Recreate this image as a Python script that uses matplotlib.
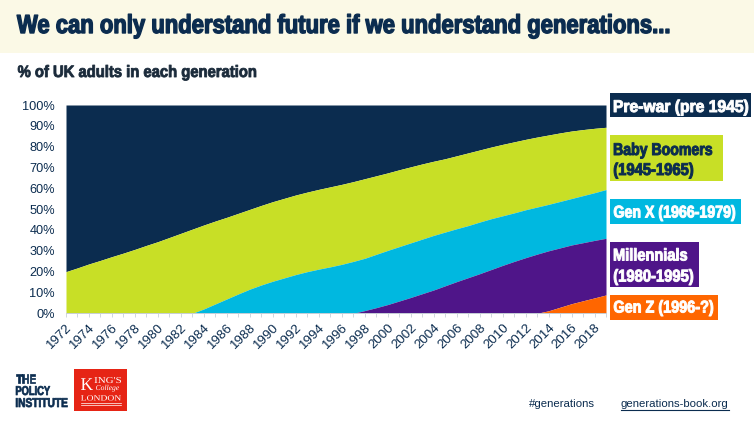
import matplotlib
matplotlib.use("Agg")
import matplotlib.pyplot as plt
from matplotlib.patches import Rectangle
from matplotlib.text import Text
from matplotlib.textpath import TextPath
from matplotlib.font_manager import FontProperties
from matplotlib.transforms import Affine2D, Bbox, ScaledTranslation

W, H = 754, 424
NAVY = "#0B2C4F"; LIME = "#C8DF26"; CYAN = "#00B8E0"; PURPLE = "#4F1589"; ORANGE = "#FF6600"
SANS = ["Liberation Sans", "DejaVu Sans"]

years = list(range(1972, 2020))
# Upper edge of each stacked band, in % of UK adults
top_genz = [0]*42 + [1.2, 2.9, 4.6, 6.0, 7.4, 8.8]
top_millennials = [0]*26 + [1.3, 2.7, 4.2, 5.9, 7.6, 9.4, 11.2, 13.2, 15.2, 17.1, 19.0, 21.0, 23.0,
                            24.9, 26.7, 28.4, 30.0, 31.4, 32.8, 33.9, 35.0, 36.0]
top_genx = [0]*12 + [2.1, 4.5, 6.9, 9.3, 11.6, 13.6, 15.4, 17.0, 18.6, 20.0, 21.2, 22.3, 23.5, 24.9,
                     26.4, 28.3, 30.2, 32.0, 33.8, 35.6, 37.4, 39.0, 40.6, 42.1, 43.8, 45.4, 46.8,
                     48.2, 49.7, 51.0, 52.3, 53.7, 55.1, 56.5, 57.9, 59.4]
top_boomers = [20.0, 21.8, 23.7, 25.4, 27.2, 28.9, 30.7, 32.6, 34.4, 36.4, 38.4, 40.4,
               42.4, 44.3, 46.1, 48.0, 49.9, 51.8, 53.6, 55.2, 56.8, 58.2, 59.5, 60.7, 61.9, 63.2, 64.6, 66.0,
               67.4, 68.9, 70.3, 71.7, 73.0, 74.2, 75.6, 77.0, 78.4, 79.8, 81.1, 82.3, 83.5,
               84.6, 85.6, 86.6, 87.5, 88.2, 88.8, 89.3]
top_prewar = [100]*48

bands = [
    (top_prewar, top_boomers, NAVY),
    (top_boomers, top_genx, LIME),
    (top_genx, top_millennials, CYAN),
    (top_millennials, top_genz, PURPLE),
    (top_genz, [0]*48, ORANGE),
]
tick_years = years[::2]
y_ticks = list(range(0, 101, 10))

title = "We can only understand future if we understand generations..."
subtitle = "% of UK adults in each generation"
legend_boxes = [
    (NAVY, 610, 93, 141, 24),
    (LIME, 610, 135, 113, 46),
    (CYAN, 610, 199, 131, 24.5),
    (PURPLE, 610, 241.5, 89, 45.5),
    (ORANGE, 610, 294.5, 108, 25),
]
legend_lines = [
    ("Pre-war (pre 1945)", "white", 614, 748, 112),
    ("Baby Boomers", NAVY, 614, 712, 155),
    ("(1945-1965)", NAVY, 614, 693, 175),
    ("Gen X (1966-1979)", "white", 614, 735, 217.5),
    ("Millennials", "white", 614, 687, 260.5),
    ("(1980-1995)", "white", 614, 693, 281.5),
    ("Gen Z (1996-?)", "white", 614, 713, 312.5),
]


class FittedText(Text):
    """Real text in pixel coordinates of the page axes, compressed to a given
    right edge (no condensed font is installed)."""

    def __init__(self, x, y, s, x1, size_px, family="Liberation Sans", weight="bold",
                 style="normal", stroke=0.0, **kw):
        super().__init__(x, y, s, **kw)
        self._x1, self._px, self._stroke = x1, size_px, stroke
        self._fp = FontProperties(family=family, weight=weight, style=style)
        # keep the ordinary text box as wide as the drawn text
        ext = TextPath((0, 0), s, size=size_px, prop=self._fp).get_extents()
        self.set_fontproperties(FontProperties(family=family, weight=weight, style=style,
                                               size=size_px * 0.72 * (x1 - x) / ext.width))
        self.set_verticalalignment("baseline")

    def _placed(self):
        p = TextPath((0, 0), self.get_text(), size=self._px, prop=self._fp)
        ext = p.get_extents()
        sx = (self._x1 - self._x) / ext.width
        tr = Affine2D().translate(-ext.x0, 0).scale(sx, 1).translate(self._x, H - self._y)
        return p, tr

    def get_window_extent(self, renderer=None, dpi=None):
        p, tr = self._placed()
        return Bbox(p.get_extents(tr))

    def draw(self, renderer):
        if not self.get_visible():
            return
        p, tr = self._placed()
        gc = renderer.new_gc()
        gc.set_foreground(self.get_color())
        gc.set_linewidth(self._stroke)
        gc.set_antialiased(True)
        face = matplotlib.colors.to_rgba(self.get_color())
        renderer.draw_path(gc, p, tr, face)
        gc.restore()


fig = plt.figure(figsize=(W/100, H/100), dpi=100, facecolor="white")
bg = fig.add_axes([0, 0, 1, 1]); bg.set_xlim(0, W); bg.set_ylim(H, 0); bg.axis("off")
bg.add_patch(Rectangle((0, 0), W, 53, color="#FBF9E6", lw=0))


def put(x, y, s, x1, px, color, stroke=0.7, **kw):
    t = FittedText(x, y, s, x1, px, stroke=stroke, color=color, **kw)
    bg.add_artist(t)
    t.set_clip_on(False)
    return t


put(17, 33, title, 669, 26, NAVY, stroke=1.0)
put(18, 77, subtitle, 256, 16.5, "#1A2A3A", stroke=0.6)

for fc, x, y, w, h in legend_boxes:
    bg.add_patch(Rectangle((x, y), w, h, color=fc, lw=0))

# logos and footer
bg.add_patch(Rectangle((74, 369), 53, 42, color="#E62415", lw=0))
bg.plot([81, 121], [402.5, 402.5], color="white", lw=0.5)
bg.plot([81, 121], [405, 405], color="white", lw=0.5)
bg.plot([620.5, 729], [410, 410], color=NAVY, lw=0.8)

for label, tc, x0, x1, base in legend_lines:
    put(x0, base, label, x1, 17, tc, stroke=0.7)
put(16, 383, "THE", 35, 12.8, NAVY, stroke=0.5)
put(16, 395, "POLICY", 50, 12.8, NAVY, stroke=0.5)
put(16, 407, "INSTITUTE", 67.5, 12.8, NAVY, stroke=0.5)
SERIF = "Liberation Serif"
put(81, 390, "K", 93, 18, "white", stroke=0, family=SERIF, weight="normal")
put(94.5, 383, "ING'S", 121, 9, "white", stroke=0, family=SERIF, weight="normal")
put(96, 390, "College", 119, 7.5, "white", stroke=0, family=SERIF, weight="normal", style="italic")
put(81, 400.5, "LONDON", 121, 8, "white", stroke=0, family=SERIF, weight="normal")
bg.text(529, 404, "#generations", family=SANS, fontsize=8.2, color=NAVY, va="center")
bg.text(620.5, 404, "generations-book.org", family=SANS, fontsize=8.2, color=NAVY, va="center")

ax = fig.add_axes([66/W, 1-313.3/H, 540/W, 208.3/H])
for upper, lower, color in bands:
    ax.fill_between(years, lower, upper, color=color, lw=0)
ax.set_xlim(1972, 2019); ax.set_ylim(0, 100)
for s in ["top", "right", "left"]:
    ax.spines[s].set_visible(False)
ax.spines["bottom"].set_color("#C8D0D8"); ax.spines["bottom"].set_linewidth(0.7)
ax.set_xticks(years, minor=True)
ax.set_xticks(tick_years)
ax.set_xticklabels(tick_years, rotation=45, ha="right", rotation_mode="anchor",
                   family=SANS, fontsize=9.6, color=NAVY)
shift = ScaledTranslation(3/72, -1.5/72, fig.dpi_scale_trans)
for lab in ax.get_xticklabels():
    lab.set_transform(lab.get_transform() + shift)
ax.set_yticks(y_ticks)
ax.set_yticklabels([f"{v}%" for v in y_ticks], family=SANS, fontsize=9.2, color=NAVY)
ax.tick_params(axis="y", length=0, pad=8)
ax.tick_params(axis="x", which="both", length=3, width=0.6, color="#C8D0D8", pad=3)

fig.savefig("out.png", dpi=100)
